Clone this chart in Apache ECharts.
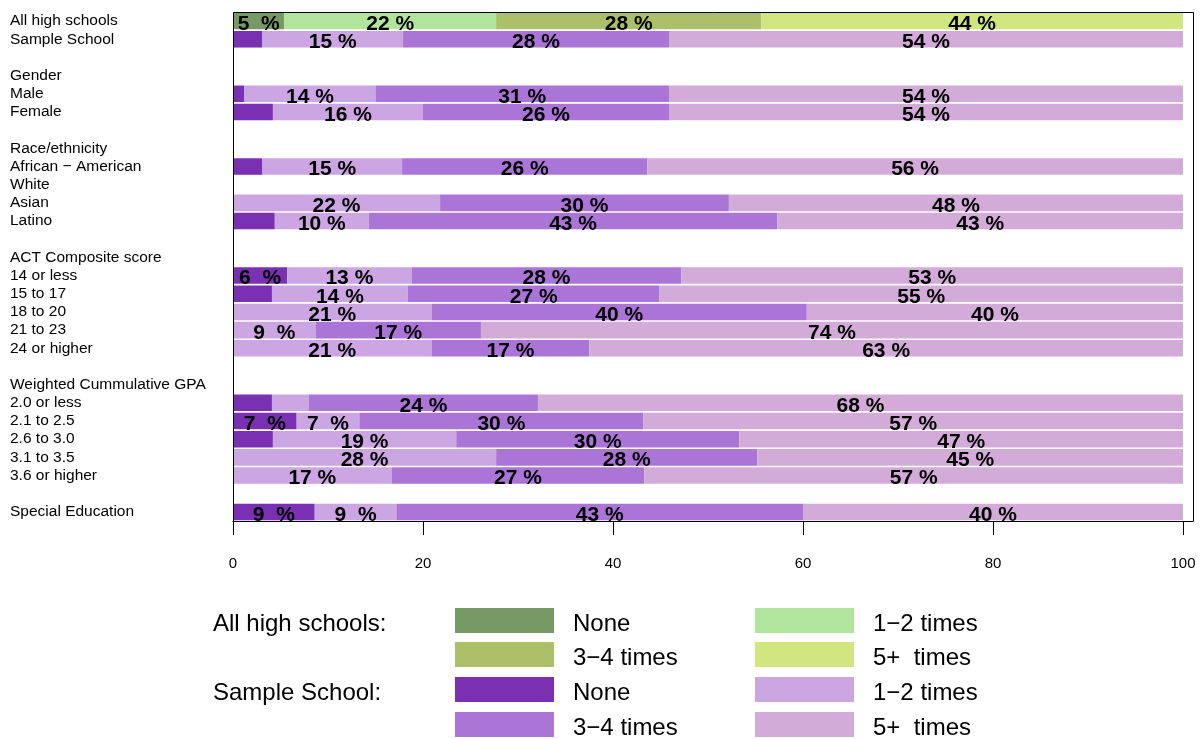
<!DOCTYPE html>
<html>
<head>
<meta charset="utf-8">
<script src="https://cdn.jsdelivr.net/npm/echarts@6/dist/echarts.min.js"></script>
<style>
html,body{margin:0;padding:0;background:#fff;}
#chart{width:1204px;height:739px;}
</style>
</head>
<body>
<div id="chart"></div>
<script>
// ---- Data ----
const rowLabels = [
  'All high schools', 'Sample School', '', 'Gender', 'Male', 'Female', '',
  'Race/ethnicity', 'African \u2212 American', 'White', 'Asian', 'Latino', '',
  'ACT Composite score', '14 or less', '15 to 17', '18 to 20', '21 to 23', '24 or higher', '',
  'Weighted Cummulative GPA', '2.0 or less', '2.1 to 2.5', '2.6 to 3.0', '3.1 to 3.5', '3.6 or higher', '',
  'Special Education'
];
const seriesNames = ['None', '1\u22122 times', '3\u22124 times', '5+  times'];
// row order matches rowLabels; null = no bar
const noneVals     = [5.4, 3.1, null, null, 1.2, 4.2, null, null, 3.1, null, 0,    4.4, null, null, 5.7, 4.1, 0,    0,    0,    null, null, 4.1, 6.7, 4.2, 0,    0,    null, 8.6];
const oneTwoVals   = [22.3, 14.8, null, null, 13.8, 15.8, null, null, 14.7, null, 21.8, 9.9, null, null, 13.1, 14.3, 20.9, 8.7, 20.9, null, null, 3.9, 6.6, 19.3, 27.7, 16.7, null, 8.6];
const threeFourVals= [27.9, 28.0, null, null, 30.9, 25.9, null, null, 25.8, null, 30.4, 43.0, null, null, 28.4, 26.5, 39.5, 17.4, 16.6, null, null, 24.1, 29.9, 29.8, 27.5, 26.6, null, 42.8];
const fivePlusVals = [44.4, 54.1, null, null, 54.1, 54.1, null, null, 56.4, null, 47.8, 42.7, null, null, 52.8, 55.1, 39.6, 73.9, 62.5, null, null, 67.9, 56.8, 46.7, 44.8, 56.7, null, 40.0];
const xTicks = [0, 20, 40, 60, 80, 100];

const allColors    = ['#779966', '#b2e59c', '#acbf69', '#d1e67e'];
const sampleColors = ['#7a30b2', '#cca5e3', '#ab75d8', '#d3abd8'];

// ---- Layout ----
const FONT = '"Liberation Sans Narrow", "Liberation Sans", Arial, sans-serif';
const G = {left: 233, top: 12, width: 950, height: 509};
const frameRight = 1193;

const valueSets = [noneVals, oneTwoVals, threeFourVals, fivePlusVals];

function fmt(v) {
  const r = Math.round(v);
  return r < 10 ? r + '  %' : r + ' %';
}

const series = valueSets.map((vals, k) => ({
  name: seriesNames[k],
  type: 'bar',
  stack: 'total',
  barCategoryGap: '9%',
  data: vals.map((v, i) => ({
    value: v,
    itemStyle: {color: i === 0 ? allColors[k] : sampleColors[k]}
  })),
  label: {
    show: true,
    position: 'inside',
    offset: [0, 3],
    color: '#000',
    fontFamily: FONT,
    fontWeight: 'bold',
    fontSize: 21,
    textBorderWidth: 0,
    formatter: p => (p.value == null || Math.round(p.value) < 5) ? '' : fmt(p.value)
  },
  emphasis: {disabled: true},
  animation: false
}));

// legend via graphic
const legendGraphics = [];
const boxX = [455, 755], textX = [573, 873];
const rowTops = [608, 642, 677, 712];
const boxW = 99, boxH = 25;
const legendEntries = [
  {row: 0, col: 0, color: allColors[0], text: seriesNames[0]},
  {row: 0, col: 1, color: allColors[1], text: seriesNames[1]},
  {row: 1, col: 0, color: allColors[2], text: seriesNames[2]},
  {row: 1, col: 1, color: allColors[3], text: seriesNames[3]},
  {row: 2, col: 0, color: sampleColors[0], text: seriesNames[0]},
  {row: 2, col: 1, color: sampleColors[1], text: seriesNames[1]},
  {row: 3, col: 0, color: sampleColors[2], text: seriesNames[2]},
  {row: 3, col: 1, color: sampleColors[3], text: seriesNames[3]}
];
legendEntries.forEach(e => {
  legendGraphics.push({
    type: 'rect', shape: {x: boxX[e.col], y: rowTops[e.row], width: boxW, height: boxH},
    style: {fill: e.color}
  });
  legendGraphics.push({
    type: 'text', x: textX[e.col], y: rowTops[e.row] + boxH / 2 + 4,
    style: {text: e.text, fill: '#000', font: '24px ' + FONT, textVerticalAlign: 'middle', textAlign: 'left'}
  });
});
[['All high schools:', 0], ['Sample School:', 2]].forEach(([t, r]) => {
  legendGraphics.push({
    type: 'text', x: 213, y: rowTops[r] + boxH / 2 + 4,
    style: {text: t, fill: '#000', font: '24px ' + FONT, textVerticalAlign: 'middle', textAlign: 'left'}
  });
});
// plot frame
legendGraphics.push({
  type: 'rect', z: 100,
  shape: {x: G.left + 0.5, y: G.top + 0.5, width: frameRight - G.left, height: G.height},
  style: {fill: 'none', stroke: '#000', lineWidth: 1}
});

const chart = echarts.init(document.getElementById('chart'), null, {renderer: 'canvas'});
chart.setOption({
  animation: false,
  backgroundColor: '#fff',
  grid: {left: G.left, top: G.top, width: G.width, height: G.height, containLabel: false},
  xAxis: {
    type: 'value', min: xTicks[0], max: xTicks[xTicks.length - 1], interval: xTicks[1] - xTicks[0],
    axisLine: {show: true, lineStyle: {color: '#000', width: 1}},
    axisTick: {show: true, length: 14, lineStyle: {color: '#000', width: 1}},
    axisLabel: {color: '#000', fontFamily: FONT, fontSize: 15, margin: 35},
    splitLine: {show: false}
  },
  yAxis: {
    type: 'category', inverse: true, data: rowLabels,
    axisLine: {show: false}, axisTick: {show: false},
    axisLabel: {align: 'left', margin: 223, color: '#000', fontFamily: FONT, fontSize: 15.5, interval: 0,
                padding: [8, 0, 0, 0]}
  },
  series: series,
  graphic: legendGraphics
});
</script>
</body>
</html>
